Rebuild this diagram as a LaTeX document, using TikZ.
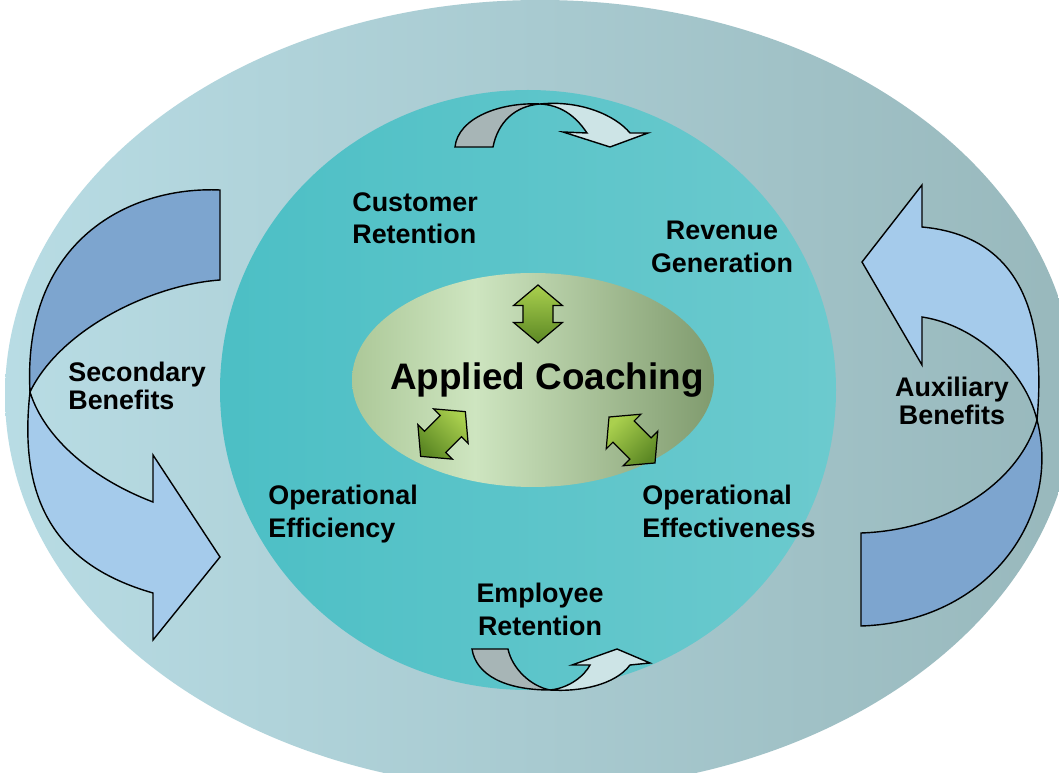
\documentclass[tikz,border=0pt]{standalone}
\usepackage{fontspec}
\setmainfont{Liberation Sans}
\usetikzlibrary{shapes.arrows}

\definecolor{outerL}{RGB}{184,220,228}
\definecolor{outerR}{RGB}{152,184,188}
\definecolor{innerL}{RGB}{76,191,197}
\definecolor{innerR}{RGB}{108,202,206}
\definecolor{coachA}{RGB}{172,200,152}
\definecolor{coachB}{RGB}{206,229,192}
\definecolor{coachC}{RGB}{128,155,110}
\definecolor{arrowL}{RGB}{170,208,78}
\definecolor{arrowD}{RGB}{92,136,36}
\definecolor{ribDark}{RGB}{125,165,207}
\definecolor{ribLight}{RGB}{165,203,235}
\definecolor{smallDark}{RGB}{167,181,182}
\definecolor{smallLight}{RGB}{205,228,230}

\pgfdeclarehorizontalshading{coach}{100bp}{color(0bp)=(coachA); color(25bp)=(coachA); color(42bp)=(coachB); color(75bp)=(coachC); color(100bp)=(coachC)}

\begin{document}
\begin{tikzpicture}[x=0.02cm,y=-0.02cm,
  txt/.style={font=\fontsize{15.3}{18.7}\selectfont\bfseries, inner sep=0},
  ribbon/.style={draw=black, line width=0.8pt, line join=miter},
  greenarrow/.style={double arrow, draw=black, line width=0.7pt, top color=arrowL, bottom color=arrowD,
    inner xsep=0pt, inner ysep=8.2pt, double arrow head extend=5.4pt, double arrow tip angle=100}]
\fill[white] (0,0) rectangle (1059,773);
\clip (0,0) rectangle (1059,773);
\shade[left color=outerL, right color=outerR] (540,395) ellipse [x radius=535, y radius=395];
\shade[left color=innerL, right color=innerR] (528,390) ellipse [x radius=308, y radius=300];
\shade[shading=coach] (533,380) ellipse [x radius=181, y radius=107];

\coordinate (lx) at (30,392);
\filldraw[ribbon, fill=ribDark] (220,190) .. controls (130,186) and (22,240) .. (lx) .. controls (60,330) and (150,285) .. (220,280) -- cycle;
\filldraw[ribbon, fill=ribLight] (lx) .. controls (18,500) and (55,565) .. (153,593) -- (153,640) -- (220,557) -- (153,455) -- (153,502) .. controls (95,480) and (45,440) .. (lx) -- cycle;

\coordinate (rx) at (1037,420);
\filldraw[ribbon, fill=ribLight] (rx) .. controls (1048,300) and (1010,235) .. (922,227) -- (922,185) -- (862,262) -- (922,365) -- (922,317) .. controls (975,325) and (1025,370) .. (rx) -- cycle;
\filldraw[ribbon, fill=ribDark] (rx) .. controls (1062,515) and (990,622) .. (861,626) -- (861,533) .. controls (950,530) and (1020,480) .. (rx) -- cycle;

\coordinate (tq) at (540,104);
\filldraw[ribbon, fill=smallDark] (455,147) .. controls (458,118) and (500,102) .. (tq) .. controls (515,106) and (498,122) .. (493,147) -- cycle;
\filldraw[ribbon, fill=smallLight] (tq) .. controls (580,100) and (615,115) .. (630,133) -- (648,133) -- (610,147) -- (563,132) -- (587,133) .. controls (575,115) and (560,105) .. (tq) -- cycle;

\coordinate (bq) at (550,690);
\filldraw[ribbon, fill=smallDark] (472,649) .. controls (476,675) and (505,690) .. (bq) .. controls (530,686) and (512,668) .. (508,649) -- cycle;
\filldraw[ribbon, fill=smallLight] (bq) .. controls (570,688) and (585,675) .. (590,665) -- (572,665) -- (617,649) -- (650,663) -- (630,665) .. controls (615,685) and (580,692) .. (bq) -- cycle;

\foreach \x/\y/\r/\l/\n in {538/314/90/33/up, 443/434/45/36/left, 632/440/135/37/right}
  \node[greenarrow, rotate=\r, minimum height=\l pt, shading angle=\r-90] (arr\n) at (\x,\y) {};

\node[font=\fontsize{21}{25}\selectfont\bfseries, inner sep=0, anchor=base] (coach) at (547,390) {Applied Coaching};
\node[txt, align=left, anchor=north west] (custret) at (352,192) {Customer\\Retention};
\node[txt, align=center, anchor=north] (revgen) at (722,221) {Revenue\\Generation};
\node[txt, align=left, anchor=north west] (opeff) at (268,485) {Operational\\Efficiency};
\node[txt, align=left, anchor=north west] (opeffect) at (642,485) {Operational\\Effectiveness};
\node[txt, align=center, anchor=north] (empret) at (540,583) {Employee\\Retention};
\node[txt, font=\fontsize{15.3}{15.5}\selectfont\bfseries, align=left, anchor=north west] (secben) at (68,362) {Secondary\\Benefits};
\node[txt, font=\fontsize{15.3}{15.5}\selectfont\bfseries, align=center, anchor=north] (auxben) at (952,377) {Auxiliary\\Benefits};
\end{tikzpicture}
\end{document}
